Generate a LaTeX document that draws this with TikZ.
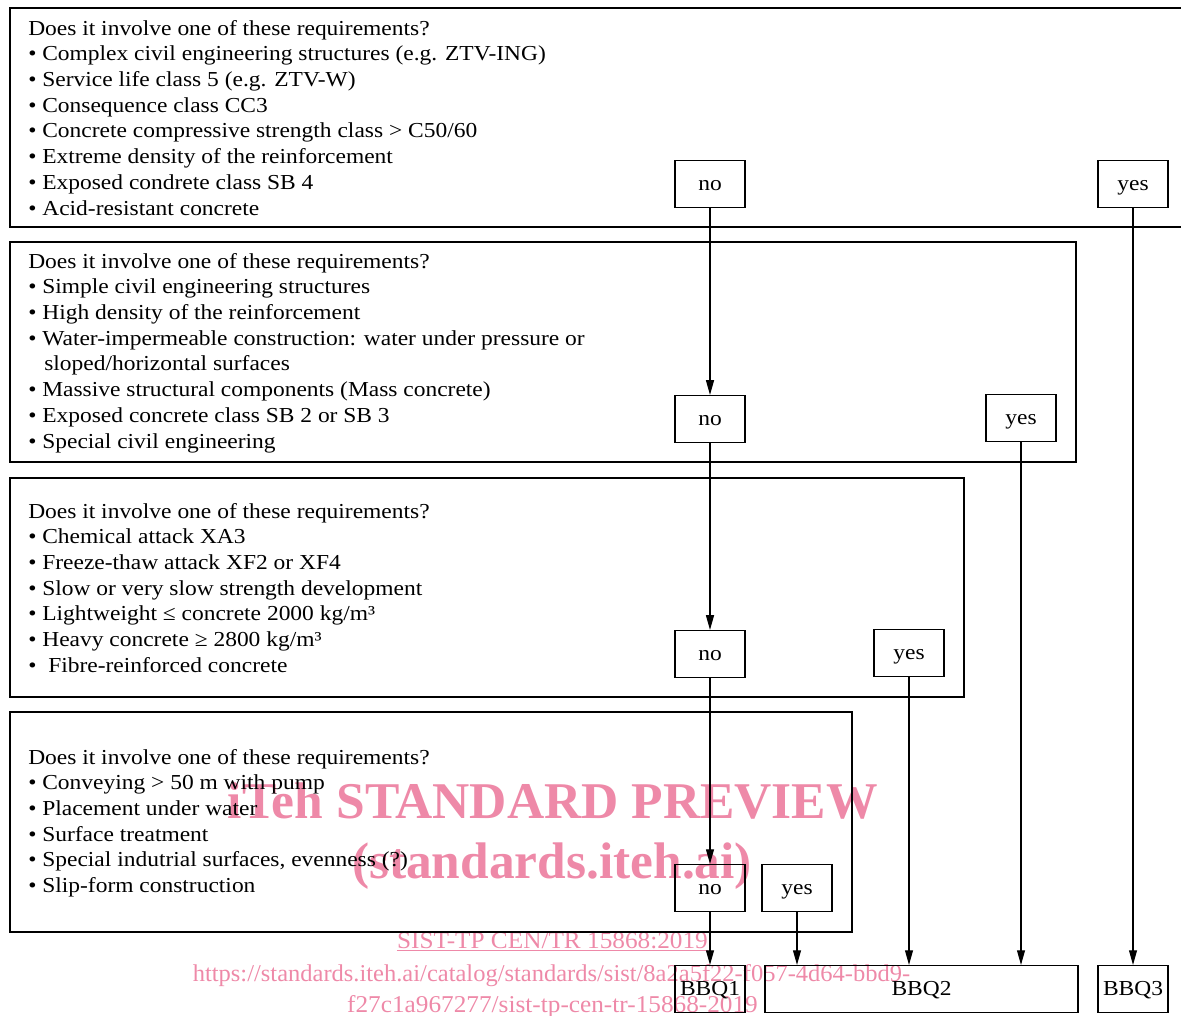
\documentclass[tikz,border=0pt]{standalone}
\usepackage{fontspec}
\setmainfont[FakeStretch=1.1]{Liberation Serif}
\newfontfamily\wmfont{Liberation Serif}
\usetikzlibrary{arrows.meta}
\definecolor{wm}{RGB}{238,137,168}
\newcommand\pxl{0.75pt}
\newcommand\bodyfont{\fontsize{16}{19.3}\selectfont}
\begin{document}
\begin{tikzpicture}[x=0.75pt,y=-0.75pt,
  bigbox/.style={draw, line width=1.9pt, inner sep=0},
  small/.style={draw, line width=0.9pt, minimum width=70*\pxl, minimum height=47*\pxl, inner sep=0, text height=11.5pt, text depth=1.25pt, font=\bodyfont},
  txt/.style={anchor=base west, inner sep=0, font=\bodyfont},
  arr/.style={-{Triangle[length=11pt,width=6pt]}, line width=0.8pt},
  wmk/.style={inner sep=0, text=wm, anchor=base}]
\useasboundingbox (0,0) rectangle (1181,1015);

% watermark
\node[wmk] (wm1) at (553,818) {\resizebox{487.5pt}{!}{\wmfont\bfseries iTeh STANDARD PREVIEW}};
\node[wmk] (wm2) at (552,878) {\resizebox{300pt}{!}{\wmfont\bfseries (standards.iteh.ai)}};
\node[wmk] (wm3) at (552.5,948) {\resizebox{233pt}{12pt}{\wmfont SIST-TP CEN/TR 15868:2019}};
\draw[wm, line width=0.8pt] ([yshift=-2pt]wm3.base west) -- ([yshift=-2pt]wm3.base east);
\node[wmk] (wm4) at (551.5,981) {\resizebox{538pt}{12.75pt}{\wmfont https://standards.iteh.ai/catalog/standards/sist/8a2a5f22-f057-4d64-bbd9-}};
\node[wmk] (wm5) at (552.5,1012) {\resizebox{308pt}{12.75pt}{\wmfont f27c1a967277/sist-tp-cen-tr-15868-2019}};

% big boxes
\node[bigbox, minimum width=1190*\pxl, minimum height=219*\pxl] (q1) at (605,117.5) {};
\node[bigbox, minimum width=1066*\pxl, minimum height=220*\pxl] (q2) at (543,352) {};
\node[bigbox, minimum width=954*\pxl, minimum height=219*\pxl] (q3) at (487,587.5) {};
\node[bigbox, minimum width=842*\pxl, minimum height=220*\pxl] (q4) at (431,822) {};

% texts
\node[txt] (t1) at (28,35) {\begin{tabular}[t]{@{}l@{}}
Does it involve one of these requirements?\\
• Complex civil engineering structures (e.g. ZTV-ING)\\
• Service life class 5 (e.g. ZTV-W)\\
• Consequence class CC3\\
• Concrete compressive strength class > C50/60\\
• Extreme density of the reinforcement\\
• Exposed condrete class SB 4\\
• Acid-resistant concrete
\end{tabular}};
\node[txt] (t2) at (28,268) {\begin{tabular}[t]{@{}l@{}}
Does it involve one of these requirements?\\
• Simple civil engineering structures\\
• High density of the reinforcement\\
• Water-impermeable construction: water under pressure or\\
\hspace{12pt}sloped/horizontal surfaces\\
• Massive structural components (Mass concrete)\\
• Exposed concrete class SB 2 or SB 3\\
• Special civil engineering
\end{tabular}};
\node[txt] (t3) at (28,518) {\begin{tabular}[t]{@{}l@{}}
Does it involve one of these requirements?\\
• Chemical attack XA3\\
• Freeze-thaw attack XF2 or XF4\\
• Slow or very slow strength development\\
• Lightweight ≤ concrete 2000 kg/m³\\
• Heavy concrete ≥ 2800 kg/m³\\
•\hspace{4.5pt} Fibre-reinforced concrete
\end{tabular}};
\node[txt] (t4) at (28,764) {\begin{tabular}[t]{@{}l@{}}
Does it involve one of these requirements?\\
• Conveying > 50 m with pump\\
• Placement under water\\
• Surface treatment\\
• Special indutrial surfaces, evenness (?)\\
• Slip-form construction
\end{tabular}};

% small boxes
\node[small] (no1) at (710,184) {no};
\node[small] (yes1) at (1133,184) {yes};
\node[small] (no2) at (710,419) {no};
\node[small] (yes2) at (1021,418) {yes};
\node[small] (no3) at (710,654) {no};
\node[small] (yes3) at (909,653) {yes};
\node[small] (no4) at (710,888) {no};
\node[small] (yes4) at (797,888) {yes};

\node[small] (bbq1) at (710,989) {BBQ1};
\node[small, minimum width=313*\pxl] (bbq2) at (921.5,989) {BBQ2};
\node[small] (bbq3) at (1133,989) {BBQ3};

% arrows
\draw[arr] (no1) -- (no2);
\draw[arr] (no2) -- (no3);
\draw[arr] (no3) -- (no4);
\draw[arr] (no4.south) -- (no4.south |- bbq1.north);
\draw[arr] (yes4.south) -- (yes4.south |- bbq2.north);
\draw[arr] (yes3.south) -- (yes3.south |- bbq2.north);
\draw[arr] (yes2.south) -- (yes2.south |- bbq2.north);
\draw[arr] (yes1.south) -- (yes1.south |- bbq3.north);
\end{tikzpicture}
\end{document}
